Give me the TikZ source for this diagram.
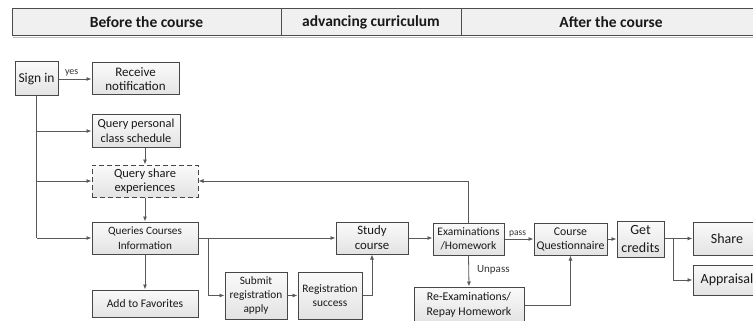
\documentclass[tikz,border=0pt]{standalone}
\usepackage{fontspec}
\setmainfont{Carlito}
\usetikzlibrary{arrows.meta}

\tikzset{
  box/.style={draw=black!72, line width=1pt, top color=black!2, bottom color=black!11,
    align=center, inner sep=0pt, font=\fontsize{12.5}{14.5}\selectfont, text=black!90},
  dashbox/.style={box, dashed, dash pattern=on 5pt off 3pt},
  link/.style={draw=black!65, line width=0.8pt, -{Latex[length=5pt,width=4pt]}},
  plain/.style={draw=black!65, line width=0.8pt},
  tag/.style={font=\fontsize{10}{11}\selectfont, text=black!80, inner sep=1pt},
  head/.style={font=\bfseries\fontsize{15.5}{17}\selectfont, text=black!90},
}

\begin{document}
\begin{tikzpicture}[x=1pt, y=-1pt]
\useasboundingbox (0,0) rectangle (753,321);
\clip (0,0) rectangle (753,321);

% column headings
\fill[black!25] (13,37) rectangle (770,38.5);
\draw[draw=black!70, line width=1pt, fill=black!6] (12,9) rectangle (770,36);
\draw[black!70, line width=1pt] (281,9) -- (281,36) (461,9) -- (461,36);
\node[head] (h1) at (146.5,22.5) {Before the course};
\node[head] (h2) at (371,22.5) {advancing curriculum};
\node[head] (h3) at (611,22.5) {After the course};

% boxes
\node[box, minimum width=43pt, minimum height=34pt, font=\fontsize{13.5}{15}\selectfont] (signin) at (36.5,79) {Sign in};
\node[box, minimum width=87pt, minimum height=32pt, font=\fontsize{13}{14.5}\selectfont] (recv) at (135.5,79) {Receive\\notification};
\node[box, minimum width=88pt, minimum height=32pt, font=\fontsize{12.3}{14.5}\selectfont] (qpcs) at (136,131) {Query personal\\class schedule};
\node[dashbox, minimum width=106pt, minimum height=32pt] (qse) at (145,181) {Query share\\experiences};
\node[box, minimum width=106pt, minimum height=32pt, font=\fontsize{11.2}{15}\selectfont] (qci) at (145,238) {Queries Courses\\Information};
\node[box, minimum width=106pt, minimum height=27pt, font=\fontsize{11.6}{13}\selectfont] (fav) at (145,303.5) {Add to Favorites};
\node[box, minimum width=62pt, minimum height=47pt, font=\fontsize{11.3}{14}\selectfont] (submit) at (256,295.5) {Submit\\registration\\apply};
\node[box, minimum width=64pt, minimum height=47pt, font=\fontsize{11.4}{14}\selectfont] (regok) at (330,295.5) {Registration\\success};
\node[box, minimum width=72pt, minimum height=32pt, font=\fontsize{12.8}{15}\selectfont] (study) at (372,238) {Study\\course};
\node[box, minimum width=71pt, minimum height=32pt, font=\fontsize{11.5}{14}\selectfont] (exam) at (468.5,239) {Examinations\\/Homework};
\node[box, minimum width=73pt, minimum height=32pt, font=\fontsize{11.8}{14}\selectfont] (cq) at (570.5,239) {Course\\Questionnaire};
\node[box, minimum width=47pt, minimum height=36pt, font=\fontsize{14}{18}\selectfont] (credits) at (640.5,239) {Get\\credits};
\node[box, minimum width=68pt, minimum height=33pt, font=\fontsize{14}{15}\selectfont] (share) at (727,238.5) {Share};
\node[box, minimum width=68pt, minimum height=30pt, font=\fontsize{14}{15}\selectfont] (appr) at (727,280) {Appraisal};
\node[box, minimum width=110pt, minimum height=35pt, font=\fontsize{11.8}{15}\selectfont] (reexam) at (469,304.5) {Re-Examinations/\\Repay Homework};

% branch points
\coordinate (s1) at (signin.south |- qpcs.west);
\coordinate (s2) at (signin.south |- qse.west);
\coordinate (s3) at (signin.south |- qci.west);
\coordinate (b1) at (208,238);
\coordinate (b2) at (208,295.5);
\coordinate (b3) at (study.south |- regok.east);
\coordinate (fb) at (exam.north |- qse.east);
\coordinate (r1) at (cq.south |- 0,305);
\coordinate (g1) at (673,238.5);
\coordinate (g2) at (673,280);

% connectors
\draw[link] (signin.east |- recv.west) -- node[tag, above, pos=0.4, yshift=1pt] {yes} (recv.west);
\draw[plain] (signin.south) -- (s3);
\draw[link] (s1) -- (qpcs.west);
\draw[link] (s2) -- (qse.west);
\draw[link] (s3) -- (qci.west);
\draw[link] (qse.north |- qpcs.south) -- (qse.north);
\draw[link] (qse.south) -- (qci.north);
\draw[link] (qci.south) -- (fav.north);
\draw[link] (qci.east) -- (study.west);
\draw[link] (b1) -- (b2) -- (submit.west);
\draw[link] (submit.east) -- (regok.west);
\draw[link] (regok.east) -- (b3) -- (study.south);
\draw[link] (study.east) -- (exam.west |- study.east);
\draw[link] (exam.north) -- (fb) -- (qse.east);
\draw[link] (exam.east) -- node[tag, above, pos=0.45, yshift=1pt, font=\fontsize{9.5}{11}\selectfont] {pass} (cq.west);
\draw[link] (exam.south) -- node[tag, right, pos=0.45, xshift=7pt, font=\fontsize{11}{12}\selectfont] {Unpass} (reexam.north);
\draw[link] (reexam.east |- r1) -- (r1) -- (cq.south);
\draw[link] (cq.east) -- (credits.west);
\draw[link] (credits.east |- g1) -- (share.west);
\draw[link] (g1) -- (g2) -- (appr.west);
\end{tikzpicture}
\end{document}
